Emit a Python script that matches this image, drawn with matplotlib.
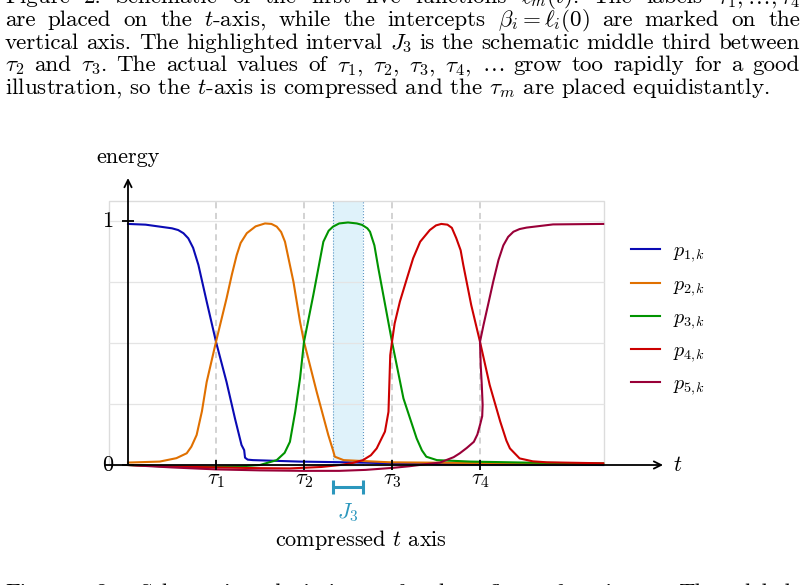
import numpy as np
import matplotlib
matplotlib.use('Agg')
import matplotlib.pyplot as plt
from matplotlib.patches import Rectangle

plt.rcParams['font.family'] = ['cmr10', 'DejaVu Serif']
plt.rcParams['mathtext.fontset'] = 'cm'
plt.rcParams['axes.unicode_minus'] = False

# ---- data (t axis compressed: tau_m = m) ----
taus = [1, 2, 3, 4]
tau_labels = [r'$\tau_1$', r'$\tau_2$', r'$\tau_3$', r'$\tau_4$']
y_ticks = [0, 1]
y_tick_labels = ['0', '1']
grid_levels = [0.25, 0.5, 0.75, 1.0]
j3 = [2 + 1/3, 2 + 2/3]
names = [r'$p_{1,\!k}$', r'$p_{2,\!k}$', r'$p_{3,\!k}$', r'$p_{4,\!k}$', r'$p_{5,\!k}$']
colors = ['#0a0ab4', '#e07000', '#009400', '#cc0000', '#990038']

p1_t = [0, 0.2, 0.36, 0.5, 0.57, 0.63, 0.685, 0.74, 0.8, 0.894, 1.0, 1.12, 1.216, 1.29, 1.32,
        1.33, 1.36, 1.42, 1.95, 2.5, 3.0, 3.5, 4.5, 5.4]
p1_e = [0.988, 0.985, 0.977, 0.97, 0.963, 0.95, 0.929, 0.89, 0.82, 0.67, 0.505, 0.34, 0.19, 0.082,
        0.061, 0.03, 0.022, 0.02, 0.014, 0.011, 0.007, 0.004, 0.002, 0.0]

p2_t = [0, 0.36, 0.55, 0.667, 0.72, 0.78, 0.84, 0.894, 1.0, 1.12, 1.18, 1.235, 1.28, 1.35, 1.45,
        1.557, 1.63, 1.69, 1.74, 1.784, 1.88, 1.955, 2.0, 2.144, 2.276, 2.33, 2.35, 2.45, 2.98,
        4.0, 5.4]
p2_e = [0.01, 0.014, 0.028, 0.048, 0.075, 0.123, 0.22, 0.34, 0.505, 0.683, 0.78, 0.86, 0.91,
        0.95, 0.978, 0.99, 0.988, 0.977, 0.955, 0.915, 0.751, 0.587, 0.505, 0.30, 0.123, 0.06,
        0.034, 0.02, 0.011, 0.008, 0.005]

p3_t = [0, 0.5, 1.0, 1.3, 1.5, 1.69, 1.78, 1.84, 1.9, 1.955, 2.0, 2.106, 2.22, 2.28, 2.33, 2.4,
        2.5, 2.6, 2.66, 2.72, 2.75, 2.8, 2.845, 3.0, 3.13, 3.28, 3.34, 3.39, 3.51, 3.89, 4.5, 5.4]
p3_e = [0, -0.007, -0.008, -0.005, 0.0, 0.02, 0.05, 0.095, 0.218, 0.355, 0.505, 0.697, 0.915,
        0.96, 0.977, 0.99, 0.994, 0.99, 0.984, 0.97, 0.956, 0.9, 0.806, 0.505, 0.273, 0.109,
        0.06, 0.034, 0.02, 0.014, 0.01, 0.006]

p4_t = [0, 0.5, 1.0, 1.5, 1.84, 2.2, 2.41, 2.55, 2.67, 2.76, 2.826, 2.92, 2.96, 2.98, 3.0, 3.03,
        3.09, 3.17, 3.24, 3.32, 3.43, 3.5, 3.56, 3.63, 3.68, 3.73, 3.78, 3.81, 3.9, 4.0, 4.11,
        4.23, 4.3, 4.34, 4.45, 4.6, 4.76, 5.4]
p4_e = [0, -0.006, -0.01, -0.013, -0.014, -0.008, 0.0, 0.008, 0.02, 0.04, 0.068, 0.137, 0.218,
        0.45, 0.505, 0.58, 0.67, 0.765, 0.847, 0.915, 0.963, 0.982, 0.988, 0.985, 0.972, 0.93,
        0.88, 0.82, 0.656, 0.505, 0.328, 0.178, 0.1, 0.068, 0.027, 0.015, 0.011, 0.007]

p5_t = [0, 0.5, 1.0, 1.5, 2.0, 2.4, 2.7, 3.0, 3.2, 3.4, 3.545, 3.7, 3.77, 3.85, 3.93, 3.97, 4.0,
        4.025, 4.03, 4.02, 4.008, 4.0, 4.04, 4.1, 4.15, 4.21, 4.265, 4.32, 4.38, 4.45, 4.53,
        4.83, 5.4]
p5_e = [0, -0.01, -0.018, -0.022, -0.024, -0.024, -0.02, -0.012, -0.005, 0.004, 0.01, 0.032,
        0.048, 0.07, 0.095, 0.125, 0.164, 0.2, 0.246, 0.33, 0.41, 0.505, 0.574, 0.67, 0.751,
        0.84, 0.90, 0.935, 0.956, 0.967, 0.973, 0.986, 0.988]

caption = [
    r'Figure 2.  Schematic of the first five functions $\ell_m(t)$. The labels $\tau_1,\ldots,\tau_4$',
    r'are placed on the $t$-axis, while the intercepts $\beta_i = \ell_i(0)$ are marked on the',
    r'vertical axis. The highlighted interval $J_3$ is the schematic middle third between',
    r'$\tau_2$ and $\tau_3$. The actual values of $\tau_1$, $\tau_2$, $\tau_3$, $\tau_4$, $\ldots$ grow too rapidly for a good',
    r'illustration, so the $t$-axis is compressed and the $\tau_m$ are placed equidistantly.',
]
caption_base = [3.4, 26, 48.6, 71.2, 93.8]
footer = r'Figure 3.  Schematic depiction of the first functions. The labels'

# ---- layout: pixel = X0 + XS*t, Y0 - YS*e ----
W, H = 805, 585
X0, XS = 128, 88
Y0, YS = 465, 244
CAP_FS = 16.6
FS = 16

fig = plt.figure(figsize=(W / 100, H / 100), dpi=100)
ax = fig.add_axes([0, 0, 1, 1])
ax.set_xlim(-X0 / XS, (W - X0) / XS)
ax.set_ylim((Y0 - H) / YS, Y0 / YS)
ax.axis('off')

xl, xr, ytop = -0.22, 5.41, 1.08
ax.add_patch(Rectangle((xl, 0), xr - xl, ytop, fill=False, ec='#dcdcdc', lw=1.0, zorder=1))
ax.hlines(grid_levels, xl, xr, colors='#e4e4e4', lw=0.9, zorder=1)
ax.fill_between(j3, 0, ytop, color='#dff2fa', lw=0, zorder=0.5)
ax.vlines(j3, 0, ytop, colors='#5a96c4', linestyles=':', lw=0.8, zorder=1)
ax.vlines(taus, 0, ytop, colors='#c6c6c6', linestyles=(0, (4, 3)), lw=1.1, zorder=1)

lines = []
for tt, ee, c, n in zip([p1_t, p2_t, p3_t, p4_t, p5_t], [p1_e, p2_e, p3_e, p4_e, p5_e], colors, names):
    ln, = ax.plot(tt, ee, color=c, lw=1.5, label=n, solid_joinstyle='round', zorder=3, clip_on=False)
    lines.append(ln)

# axes with arrows
arr = dict(arrowstyle='->', lw=1.3, color='k', mutation_scale=13, shrinkA=0, shrinkB=0)
ax.annotate('', xy=(6.08, 0), xytext=(-0.26, 0), arrowprops=arr, zorder=4)
ax.annotate('', xy=(0, 1.176), xytext=(0, 0), arrowprops=arr, zorder=4)
ax.vlines(taus, -0.022, 0.022, colors='k', lw=1.3, zorder=4)
ax.hlines(y_ticks, -0.07, 0.07, colors='k', lw=1.3, zorder=4)
for t, lab in zip(taus, tau_labels):
    ax.text(t, -0.022, lab, ha='center', va='top', fontsize=FS)
for v, lab in zip(y_ticks, y_tick_labels):
    ax.text(-0.17, v, lab, ha='right', va='center', fontsize=FS)
ax.text(0, 1.26, 'energy', ha='center', va='center', fontsize=FS)
ax.text(6.19, 0, r'$t$', ha='left', va='center', fontsize=FS)

# J3 bracket
jc = '#2b97bd'
ax.plot(j3, [-0.09, -0.09], color=jc, lw=2.2, solid_capstyle='butt')
ax.vlines(j3, -0.119, -0.061, colors=jc, lw=2.2)
ax.text(np.mean(j3), -0.197, r'$J_3$', color=jc, ha='center', va='center', fontsize=FS)
ax.text(2.65, -0.307, r'compressed $t$ axis', ha='center', va='center', fontsize=FS)

ax.legend(handles=lines, loc='upper left', bbox_to_anchor=(5.716, 0.913), bbox_transform=ax.transData,
          frameon=False, fontsize=14.5, handlelength=1.45, handletextpad=0.65, labelspacing=0.55,
          borderpad=0, borderaxespad=0)

# caption text, justified lines
renderer = fig.canvas.get_renderer()


def tokens(line):
    out, cur, inmath = [], '', False
    for ch in line:
        if ch == '$':
            inmath = not inmath
        if ch == ' ' and not inmath:
            if cur:
                out.append(cur)
            cur = ''
        else:
            cur += ch
    if cur:
        out.append(cur)
    return out


def put_line(line, ybase, justify=True):
    y = 1 - ybase / H
    if not justify:
        fig.text(5 / W, y, line, fontsize=CAP_FS, va='baseline')
        return
    words = tokens(line)
    txts = [fig.text(0, y, w, fontsize=CAP_FS, va='baseline') for w in words]
    widths = [t.get_window_extent(renderer).width for t in txts]
    gap = max((800 - 5 - sum(widths)) / (len(words) - 1), 5)
    x = 5
    for t, w in zip(txts, widths):
        t.set_x(x / W)
        x += w + gap


for i, (line, yb) in enumerate(zip(caption, caption_base)):
    put_line(line, yb, justify=i < len(caption) - 1)
put_line(footer, 599)

fig.savefig('out.png', dpi=100)
